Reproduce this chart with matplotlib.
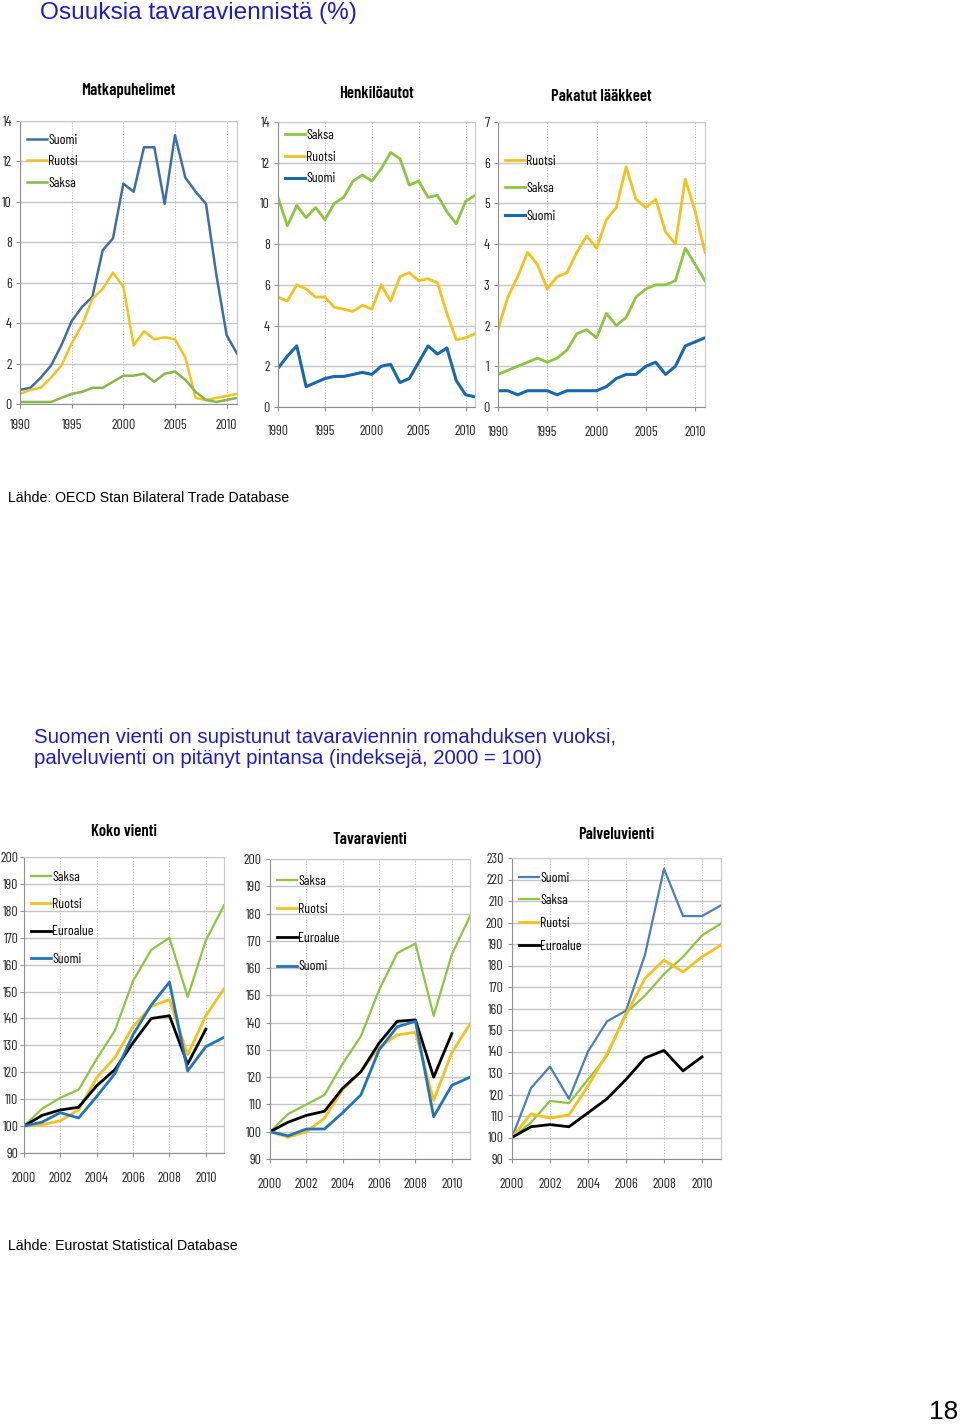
import matplotlib
matplotlib.use("Agg")
import matplotlib.pyplot as plt

W, H = 960, 1427

# Narrow font for the Excel-style charts (falls back to DejaVu Sans Condensed)
NARROW = ["Barlow Condensed", "DejaVu Sans"]
plt.rcParams["font.family"] = ["Liberation Sans", "DejaVu Sans"]

YELLOW = "#f4c21b"
GREEN = "#8cc63e"
BLACK = "#000000"
TITLE_BLUE = "#1c1cc8"

# ---- Top row data: shares of goods exports (%) ----
years_top = list(range(1990, 2012))

mobile_suomi = [0.7, 0.8, 1.3, 1.9, 2.9, 4.1, 4.8, 5.3, 7.6, 8.2, 10.9, 10.5,
                12.7, 12.7, 9.9, 13.3, 11.2, 10.5, 9.9, 6.4, 3.4, 2.5]
mobile_ruotsi = [0.5, 0.7, 0.8, 1.3, 1.9, 3.0, 3.9, 5.2, 5.7, 6.5, 5.8, 2.9,
                 3.6, 3.2, 3.3, 3.2, 2.3, 0.3, 0.2, 0.3, 0.4, 0.5]
mobile_saksa = [0.1, 0.1, 0.1, 0.1, 0.3, 0.5, 0.6, 0.8, 0.8, 1.1, 1.4, 1.4,
                1.5, 1.1, 1.5, 1.6, 1.2, 0.6, 0.2, 0.1, 0.2, 0.3]

cars_saksa = [10.3, 8.9, 9.9, 9.3, 9.8, 9.2, 10.0, 10.3, 11.1, 11.4, 11.1, 11.7,
              12.5, 12.2, 10.9, 11.1, 10.3, 10.4, 9.6, 9.0, 10.1, 10.4]
cars_ruotsi = [5.4, 5.2, 6.0, 5.8, 5.4, 5.4, 4.9, 4.8, 4.7, 5.0, 4.8, 6.0,
               5.2, 6.4, 6.6, 6.2, 6.3, 6.1, 4.6, 3.3, 3.4, 3.6]
cars_suomi = [1.9, 2.5, 3.0, 1.0, 1.2, 1.4, 1.5, 1.5, 1.6, 1.7, 1.6, 2.0,
              2.1, 1.2, 1.4, 2.2, 3.0, 2.6, 2.9, 1.3, 0.6, 0.5]

med_ruotsi = [1.9, 2.7, 3.2, 3.8, 3.5, 2.9, 3.2, 3.3, 3.8, 4.2, 3.9, 4.6,
              4.9, 5.9, 5.1, 4.9, 5.1, 4.3, 4.0, 5.6, 4.8, 3.8]
med_saksa = [0.8, 0.9, 1.0, 1.1, 1.2, 1.1, 1.2, 1.4, 1.8, 1.9, 1.7, 2.3,
             2.0, 2.2, 2.7, 2.9, 3.0, 3.0, 3.1, 3.9, 3.5, 3.1]
med_suomi = [0.4, 0.4, 0.3, 0.4, 0.4, 0.4, 0.3, 0.4, 0.4, 0.4, 0.4, 0.5,
             0.7, 0.8, 0.8, 1.0, 1.1, 0.8, 1.0, 1.5, 1.6, 1.7]

# ---- Bottom row data: export indices (2000 = 100) ----
years_bot = list(range(2000, 2012))
years_euro = list(range(2000, 2011))

total_saksa = [100, 106.5, 110.5, 113.5, 125, 135.5, 154, 165.5, 170, 148, 169, 182]
total_ruotsi = [100, 100.5, 102, 106, 118, 125.5, 137, 144.5, 147, 126.5, 141, 151]
total_euro = [100, 104, 106, 107, 115, 121, 131, 140, 141, 123, 136]
total_suomi = [100, 101.5, 105, 103, 111, 119.5, 134, 145, 153.5, 120.5, 129.5, 133]

goods_saksa = [100, 106.5, 110, 113.5, 125, 135, 152, 165.5, 169, 142.5, 165, 179]
goods_ruotsi = [100, 98, 100, 105, 115.5, 122, 131, 135.5, 136.5, 111.5, 129, 139.5]
goods_euro = [100, 103.5, 106, 107.5, 116, 122, 132.5, 140.5, 141, 120, 136]
goods_suomi = [100, 98.5, 101, 101, 107, 113.5, 130, 138.5, 140.5, 105.5, 117, 120]

serv_suomi = [100, 123, 133, 118, 140, 154, 159, 185, 225, 203, 203, 208]
serv_saksa = [100, 107, 117, 116, 127, 138, 158, 166, 176, 184, 194, 199.5]
serv_ruotsi = [100, 111, 109, 110.5, 124, 139, 157, 174, 182.5, 177, 184, 189.5]
serv_euro = [100, 105, 106, 105, 111.5, 118, 127, 137, 140.5, 131, 137.5]

fig = plt.figure(figsize=(W / 100, H / 100), dpi=100)


def px_axes(left, top, right, bottom):
    return fig.add_axes([left / W, 1 - bottom / H, (right - left) / W, (bottom - top) / H])


def style_chart(ax, title, xlim, xticks, ylim, yticks, title_pad, xpad, ypad=3):
    ax.set_xlim(*xlim)
    ax.set_ylim(*ylim)
    ax.set_xticks(xticks)
    ax.set_yticks(yticks)
    ax.grid(axis="y", color="#c4c4c4", linewidth=1.0)
    ax.grid(axis="x", color="#b8b8b8", linewidth=0.8, linestyle=(0, (1, 1.5)))
    ax.set_axisbelow(True)
    for side in ["top", "right"]:
        ax.spines[side].set_color("#c8c8c8")
        ax.spines[side].set_linewidth(0.8)
    for side in ["left", "bottom"]:
        ax.spines[side].set_color("#909090")
    ax.tick_params(axis="both", labelsize=10, length=3, color="#909090")
    ax.tick_params(axis="x", pad=xpad)
    ax.tick_params(axis="y", pad=ypad)
    for lab in ax.get_xticklabels() + ax.get_yticklabels():
        lab.set_fontfamily(NARROW)
        lab.set_fontstretch("condensed")
        lab.set_color("#222222")
    ax.set_title(title, fontsize=12, fontweight="semibold", family=NARROW,
                 fontstretch="condensed", pad=title_pad)


def legend(ax, anchor, spacing):
    return ax.legend(loc="upper left", bbox_to_anchor=anchor, frameon=False,
                     handlelength=1.4, handletextpad=0.1, labelspacing=spacing,
                     borderaxespad=0.3,
                     prop={"family": NARROW, "size": 10, "stretch": "condensed"})


# ---- Top row ----
ax1 = px_axes(20, 121, 237, 404)
ax1.plot(years_top, mobile_suomi, color="#3b6eab", lw=1.8, label="Suomi")
ax1.plot(years_top, mobile_ruotsi, color=YELLOW, lw=1.8, label="Ruotsi")
ax1.plot(years_top, mobile_saksa, color="#86b74a", lw=1.8, label="Saksa")
style_chart(ax1, "Matkapuhelimet", (1990, 2011), range(1990, 2011, 5), (0, 14),
            range(0, 15, 2), 19, 8)
legend(ax1, (-0.012, 0.99), 0.63)

ax2 = px_axes(278, 122, 475, 407)
ax2.plot(years_top, cars_saksa, color=GREEN, lw=2, label="Saksa")
ax2.plot(years_top, cars_ruotsi, color=YELLOW, lw=2, label="Ruotsi")
ax2.plot(years_top, cars_suomi, color="#1768b0", lw=2.2, label="Suomi")
style_chart(ax2, "Henkilöautot", (1990, 2011), range(1990, 2011, 5), (0, 14),
            range(0, 15, 2), 17, 10)
legend(ax2, (-0.012, 1.01), 0.63)

ax3 = px_axes(498, 122, 705, 407)
ax3.plot(years_top, med_ruotsi, color=YELLOW, lw=2, label="Ruotsi")
ax3.plot(years_top, med_saksa, color=GREEN, lw=2, label="Saksa")
ax3.plot(years_top, med_suomi, color="#1768b0", lw=2.2, label="Suomi")
style_chart(ax3, "Pakatut lääkkeet", (1990, 2011), range(1990, 2011, 5), (0, 7),
            range(0, 8), 15, 11)
legend(ax3, (-0.012, 0.92), 1.06)

# ---- Bottom row ----
ax4 = px_axes(24, 857, 224, 1153)
ax4.plot(years_bot, total_saksa, color=GREEN, lw=1.6, label="Saksa")
ax4.plot(years_bot, total_ruotsi, color=YELLOW, lw=2, label="Ruotsi")
ax4.plot(years_euro, total_euro, color=BLACK, lw=2, label="Euroalue")
ax4.plot(years_bot, total_suomi, color="#1f74bb", lw=2, label="Suomi")
style_chart(ax4, "Koko vienti", (2000, 2011), range(2000, 2011, 2), (90, 200),
            range(90, 201, 10), 15, 11, ypad=1)
legend(ax4, (-0.012, 0.987), 1.04)

ax5 = px_axes(270, 859, 470, 1159)
ax5.plot(years_bot, goods_saksa, color=GREEN, lw=1.6, label="Saksa")
ax5.plot(years_bot, goods_ruotsi, color=YELLOW, lw=2, label="Ruotsi")
ax5.plot(years_euro, goods_euro, color=BLACK, lw=2, label="Euroalue")
ax5.plot(years_bot, goods_suomi, color="#1f74bb", lw=2, label="Suomi")
style_chart(ax5, "Tavaravienti", (2000, 2011), range(2000, 2011, 2), (90, 200),
            range(90, 201, 10), 11, 11)
legend(ax5, (-0.012, 0.98), 1.12)

ax6 = px_axes(512, 858, 721, 1159)
ax6.plot(years_bot, serv_suomi, color="#4a7fbf", lw=1.6, label="Suomi")
ax6.plot(years_bot, serv_saksa, color=GREEN, lw=1.6, label="Saksa")
ax6.plot(years_bot, serv_ruotsi, color=YELLOW, lw=2, label="Ruotsi")
ax6.plot(years_euro, serv_euro, color=BLACK, lw=2, label="Euroalue")
style_chart(ax6, "Palveluvienti", (2000, 2011), range(2000, 2011, 2), (90, 230),
            range(90, 231, 10), 14, 11)
legend(ax6, (-0.012, 0.987), 0.7)

# ---- Page texts ----
fig.text(40 / W, 1 - 13 / H, "Osuuksia tavaraviennistä (%)", color=TITLE_BLUE,
         fontsize=17.6, va="center", ha="left")
fig.text(8 / W, 1 - 498 / H, "Lähde: OECD Stan Bilateral Trade Database",
         fontsize=10.2, va="center", ha="left")
fig.text(34 / W, 1 - 748 / H,
         "Suomen vienti on supistunut tavaraviennin romahduksen vuoksi,\n"
         "palveluvienti on pitänyt pintansa (indeksejä, 2000 = 100)",
         color=TITLE_BLUE, fontsize=14.7, va="center", ha="left", linespacing=1.1)
fig.text(8 / W, 1 - 1246 / H, "Lähde: Eurostat Statistical Database",
         fontsize=10.2, va="center", ha="left")
fig.text(958 / W, 1 - 1412 / H, "18", fontsize=19, va="center", ha="right")

fig.savefig("out.png", dpi=100)
